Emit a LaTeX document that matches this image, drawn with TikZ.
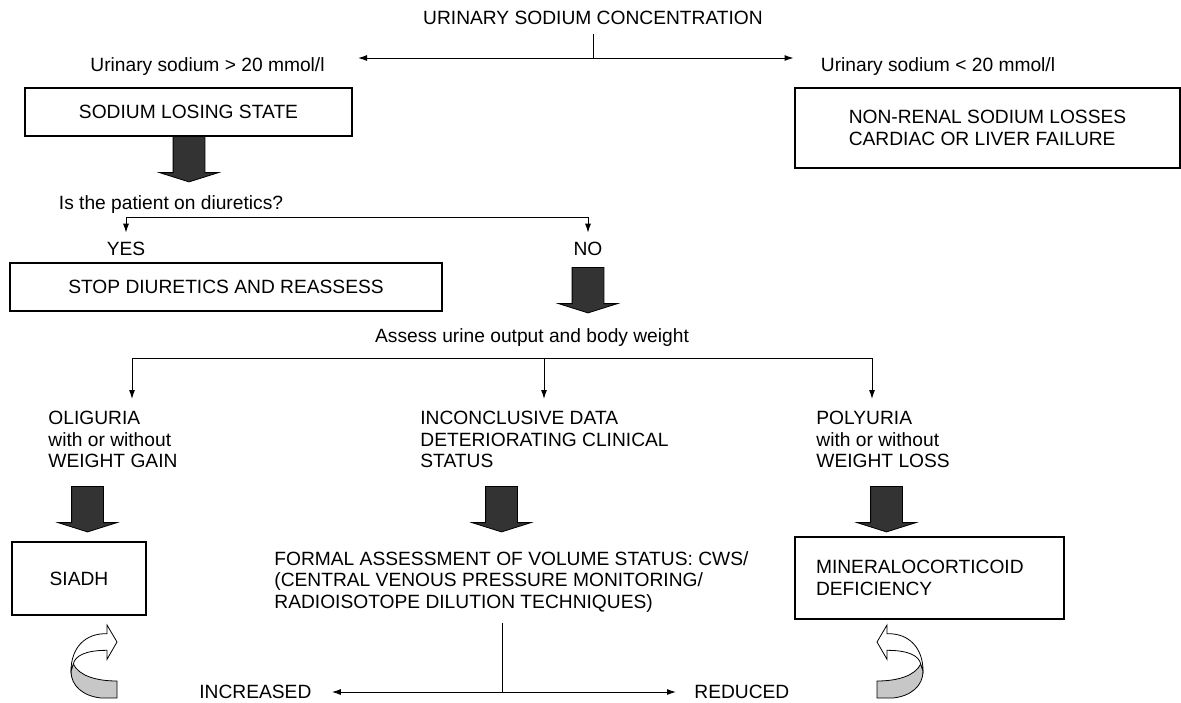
\documentclass[tikz,border=0pt]{standalone}
\usepackage{fontspec}
\setmainfont{Liberation Sans}
\usetikzlibrary{shapes.arrows,arrows.meta,positioning}
\tikzset{
  txt/.style={
    inner sep = 0pt,
    align = left
  },
  box/.style={
    draw,
    line width = 0.6pt,
    inner sep = 0pt,
    align = left
  },
  fatarrow/.style={
    single arrow,
    draw,
    fill = black!80,
    shape border rotate = 270,
    inner sep = 7.75pt,
    minimum height = 22.75pt,
    single arrow head extend = 6.75pt,
    single arrow tip angle = 145,
    anchor = tail
  },
  arr/.style={
    -{Latex[length=4.5pt,width=3pt]},
    line width = 0.5pt
  },
  uturn/.pic={
    \filldraw[fill=black!22, line width=0.4pt] (2.3,40) .. controls (8,52) and (26,57) .. (46,57)
      -- (46,74) -- (30,74) .. controls (12,72) and (0,62) .. (0,47) -- cycle;
    \filldraw[fill=white, line width=0.4pt] (36,9.7) .. controls (14,9) and (0,24) .. (0,47)
      -- (2.3,40) .. controls (4,32) and (14,26.3) .. (36,26.3) -- (36,35.3) -- (46,18) -- (36,1) -- cycle;
  }
}

\begin{document}
\begin{tikzpicture}[x=0.5pt, y=-0.5pt, font=\fontsize{9.6pt}{10.75pt}\selectfont]
  \useasboundingbox (0,0) rectangle (1181,702);

  \node[txt, anchor=base] (title) at (593,24) {URINARY SODIUM CONCENTRATION};
  \coordinate (top) at (593,58);
  \node[txt, anchor=base] (gt) at (207.5,71) {Urinary sodium > 20 mmol/l};
  \node[txt, anchor=base] (lt) at (938,71) {Urinary sodium < 20 mmol/l};
  \draw[line width=0.5pt, shorten <=4.5pt] (title.south) -- (top);
  \draw[arr, shorten >=16.5pt] (top) -- (top -| gt.east);
  \draw[arr, shorten >=13.5pt] (top) -- (top -| lt.west);

  \node[box, minimum width=163.5pt, minimum height=24pt] (losing) at (188.5,112) {SODIUM LOSING STATE};
  \node[box, minimum width=192.5pt, minimum height=40pt] (renal) at (987.5,128) {NON-RENAL SODIUM LOSSES\\CARDIAC OR LIVER FAILURE};
  \node[fatarrow] (f1) at (189,136) {};

  \node[txt, anchor=base] (q) at (171,209) {Is the patient on diuretics?};
  \coordinate (qy) at (126,217);
  \coordinate (qn) at (588,217);
  \node[txt, anchor=base] (yes) at (126,255) {YES};
  \node[txt, anchor=base] (no) at (588,255) {NO};
  \draw[line width=0.5pt] (qy) -- (qn);
  \draw[arr, shorten >=4.25pt] (qy) -- (yes.north);
  \draw[arr, shorten >=4.25pt] (qn) -- (no.north);
  \node[box, minimum width=216pt, minimum height=24pt] (stop) at (226,287) {STOP DIURETICS AND REASSESS};
  \node[fatarrow] (f2) at (588,267) {};

  \node[txt, anchor=base] (assess) at (532,342) {Assess urine output and body weight};
  \coordinate (s1) at (132,358);
  \coordinate (s2) at (544,358);
  \coordinate (s3) at (872,358);
  \node[txt, anchor=north west] (oli) at (48,411) {OLIGURIA\\with or without\\WEIGHT GAIN};
  \node[txt, anchor=north west] (incon) at (420,411) {INCONCLUSIVE DATA\\DETERIORATING CLINICAL\\STATUS};
  \node[txt, anchor=north west] (poly) at (816,411) {POLYURIA\\with or without\\WEIGHT LOSS};
  \draw[line width=0.5pt] (s1) -- (s3);
  \draw[arr, shorten >=6pt] (s1) -- (s1 |- oli.north);
  \draw[arr, shorten >=6pt] (s2) -- (s2 |- incon.north);
  \draw[arr, shorten >=6pt] (s3) -- (s3 |- poly.north);

  \node[fatarrow] (f3) at (87.5,486) {};
  \node[fatarrow] (f4) at (501.5,486) {};
  \node[fatarrow] (f5) at (886.5,486) {};
  \node[box, minimum width=67pt, minimum height=36.5pt] (siadh) at (79,578.5) {SIADH};
  \node[box, text width=113.5pt, inner xsep=10.5pt, minimum height=41pt] (mineral) at (929.5,578) {MINERALOCORTICOID\\DEFICIENCY};
  \node[txt, anchor=north west] (formal) at (274,551) {FORMAL ASSESSMENT OF VOLUME STATUS: CWS/\\(CENTRAL VENOUS PRESSURE MONITORING/\\RADIOISOTOPE DILUTION TECHNIQUES)};

  \coordinate (bot) at (502,692);
  \node[txt, anchor=base west] (incr) at (199,698) {INCREASED};
  \node[txt, anchor=base west] (red) at (694,698) {REDUCED};
  \draw[line width=0.5pt, shorten <=5pt] (bot |- formal.south) -- (bot);
  \draw[arr, shorten >=10pt] (bot) -- (bot -| incr.east);
  \draw[arr, shorten >=9pt] (bot) -- (bot -| red.west);

  \pic at (71,624) {uturn};
  \pic[xscale=-1] at (923,624) {uturn};
\end{tikzpicture}
\end{document}
